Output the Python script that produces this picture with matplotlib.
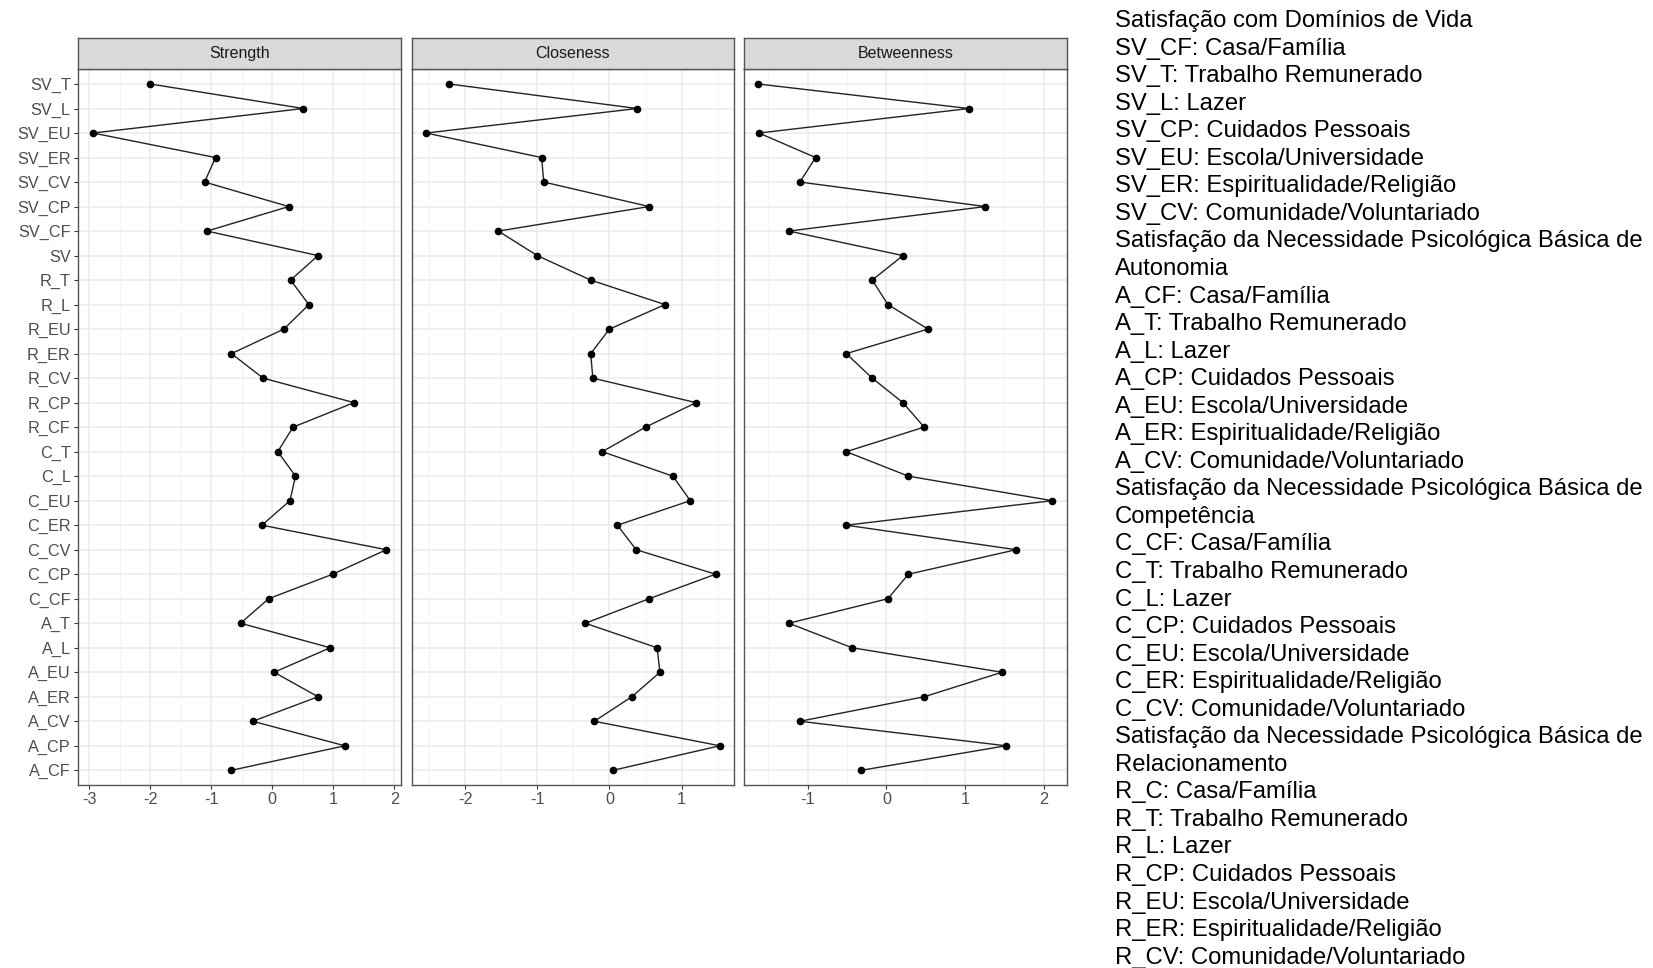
import matplotlib.pyplot as plt
from matplotlib.ticker import MultipleLocator

plt.rcParams['font.family'] = ['Liberation Sans', 'DejaVu Sans']
plt.rcParams['axes.unicode_minus'] = False

# nós (de baixo para cima, como no gráfico)
nos = ["A_CF", "A_CP", "A_CV", "A_ER", "A_EU", "A_L", "A_T",
       "C_CF", "C_CP", "C_CV", "C_ER", "C_EU", "C_L", "C_T",
       "R_CF", "R_CP", "R_CV", "R_ER", "R_EU", "R_L", "R_T",
       "SV", "SV_CF", "SV_CP", "SV_CV", "SV_ER", "SV_EU", "SV_L", "SV_T"]

strength = [-0.67, 1.19, -0.32, 0.75, 0.03, 0.95, -0.52,
            -0.06, 0.99, 1.87, -0.17, 0.29, 0.38, 0.09,
            0.34, 1.34, -0.15, -0.67, 0.19, 0.60, 0.30,
            0.75, -1.07, 0.27, -1.11, -0.93, -2.94, 0.51, -2.00]

closeness = [0.05, 1.53, -0.21, 0.31, 0.70, 0.66, -0.335,
             0.55, 1.47, 0.37, 0.11, 1.12, 0.88, -0.10,
             0.50, 1.20, -0.23, -0.26, 0.00, 0.77, -0.26,
             -1.00, -1.54, 0.55, -0.91, -0.94, -2.54, 0.385, -2.22]

betweenness = [-0.32, 1.52, -1.10, 0.48, 1.47, -0.435, -1.24,
               0.02, 0.28, 1.65, -0.51, 2.11, 0.28, -0.51,
               0.48, 0.21, -0.18, -0.51, 0.53, 0.02, -0.18,
               0.21, -1.24, 1.26, -1.10, -0.90, -1.62, 1.05, -1.63]

paineis = ["Strength", "Closeness", "Betweenness"]
valores = [strength, closeness, betweenness]
limites_x = [(-3.19, 2.11), (-2.74, 1.73), (-1.81, 2.30)]
ticks_x = [[-3, -2, -1, 0, 1, 2], [-2, -1, 0, 1], [-1, 0, 1, 2]]

legenda = [
    "Satisfação com Domínios de Vida",
    "SV_CF: Casa/Família",
    "SV_T: Trabalho Remunerado",
    "SV_L: Lazer",
    "SV_CP: Cuidados Pessoais",
    "SV_EU: Escola/Universidade",
    "SV_ER: Espiritualidade/Religião",
    "SV_CV: Comunidade/Voluntariado",
    "Satisfação da Necessidade Psicológica Básica de",
    "Autonomia",
    "A_CF: Casa/Família",
    "A_T: Trabalho Remunerado",
    "A_L: Lazer",
    "A_CP: Cuidados Pessoais",
    "A_EU: Escola/Universidade",
    "A_ER: Espiritualidade/Religião",
    "A_CV: Comunidade/Voluntariado",
    "Satisfação da Necessidade Psicológica Básica de",
    "Competência",
    "C_CF: Casa/Família",
    "C_T: Trabalho Remunerado",
    "C_L: Lazer",
    "C_CP: Cuidados Pessoais",
    "C_EU: Escola/Universidade",
    "C_ER: Espiritualidade/Religião",
    "C_CV: Comunidade/Voluntariado",
    "Satisfação da Necessidade Psicológica Básica de",
    "Relacionamento",
    "R_C: Casa/Família",
    "R_T: Trabalho Remunerado",
    "R_L: Lazer",
    "R_CP: Cuidados Pessoais",
    "R_EU: Escola/Universidade",
    "R_ER: Espiritualidade/Religião",
    "R_CV: Comunidade/Voluntariado",
]

W, H = 1653, 968
fig = plt.figure(figsize=(W / 100, H / 100), dpi=100)

# posições dos painéis em pixels (esquerda, direita)
bordas = [(77.7, 401.0), (411.7, 734.3), (744.0, 1067.3)]
topo, base, faixa = 69.3, 785.0, 31.0
y = list(range(len(nos)))

for i, (nome, vals) in enumerate(zip(paineis, valores)):
    x0, x1 = bordas[i]
    ax = fig.add_axes([x0 / W, 1 - base / H, (x1 - x0) / W, (base - topo) / H])
    ax.set_xlim(*limites_x[i])
    ax.set_ylim(-0.6, len(nos) - 0.4)
    ax.set_xticks(ticks_x[i])
    ax.xaxis.set_minor_locator(MultipleLocator(0.5))
    ax.set_yticks(y)
    ax.grid(True, which='major', color='#EBEBEB', linewidth=1.1)
    ax.grid(True, which='minor', axis='x', color='#F2F2F2', linewidth=0.6)
    ax.set_axisbelow(True)
    ax.plot(vals, y, color='#222222', linewidth=1.0, marker='o',
            markersize=4.5, markerfacecolor='black', markeredgecolor='black')
    for s in ax.spines.values():
        s.set_color('#555555')
        s.set_linewidth(1.0)
    ax.tick_params(which='major', length=3, color='#333333', width=0.8,
                   labelsize=11.7, labelcolor='#4D4D4D', pad=2)
    ax.tick_params(which='minor', length=0)
    if i == 0:
        ax.set_yticklabels(nos)
    else:
        ax.set_yticklabels([])
        ax.tick_params(axis='y', length=0)

    # faixa de título do painel
    sax = fig.add_axes([x0 / W, 1 - topo / H, (x1 - x0) / W, faixa / H])
    sax.set_facecolor('#D9D9D9')
    sax.set_xticks([])
    sax.set_yticks([])
    for s in sax.spines.values():
        s.set_color('#555555')
        s.set_linewidth(1.0)
    sax.text(0.5, 0.5, nome, ha='center', va='center', fontsize=11.5,
             color='#1A1A1A', transform=sax.transAxes)

# legenda de texto à direita
y0, passo = 21.0, 27.55
for k, linha in enumerate(legenda):
    fig.text(1115 / W, 1 - (y0 + k * passo) / H, linha, ha='left', va='center',
             fontsize=17.2, color='black')

fig.savefig("out.png", dpi=100)
plt.close()
